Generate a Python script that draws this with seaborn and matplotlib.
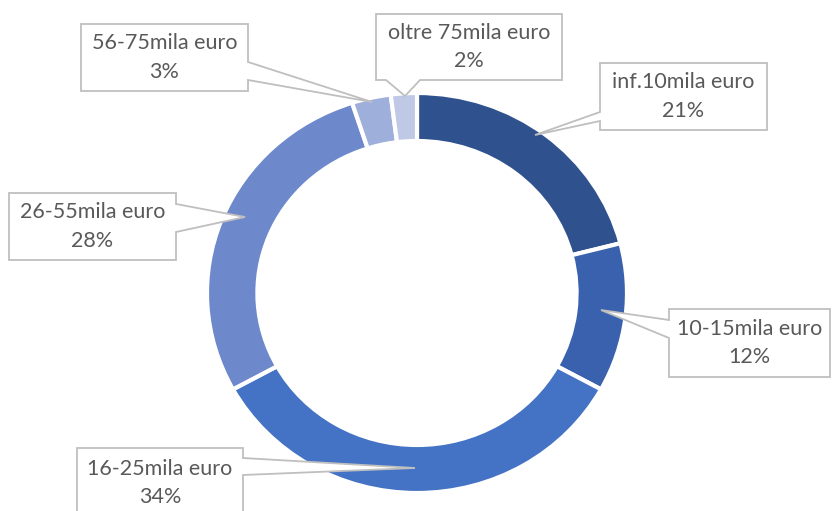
import matplotlib
matplotlib.use("Agg")
import matplotlib.pyplot as plt
from matplotlib.patches import Polygon
import seaborn as sns

categories = ["inf.10mila euro", "10-15mila euro", "16-25mila euro",
              "26-55mila euro", "56-75mila euro", "oltre 75mila euro"]
values = [21, 12, 34, 28, 3, 2]
pct_labels = ["21%", "12%", "34%", "28%", "3%", "2%"]
colors = ["#2F528F", "#3A61AD", "#4472C4", "#6D89CB", "#9EAFDB", "#BFC9E6"]

sns.set_theme(style="white")
plt.rcParams["font.family"] = ["Lato", "DejaVu Sans"]

W, H = 832, 511
fig = plt.figure(figsize=(W / 100, H / 100), dpi=100)
fig.patch.set_facecolor("white")

# pie axes (slightly elliptical like the reference)
cx, cy, rx, ry = 417, 293, 210, 200
pax = fig.add_axes([(cx - rx) / W, (H - cy - ry) / H, 2 * rx / W, 2 * ry / H])
pax.pie(values, colors=colors, startangle=90, counterclock=False, radius=1.0,
        wedgeprops=dict(width=0.24, edgecolor="white", linewidth=3))
pax.set_aspect("auto")
pax.set_xlim(-1, 1)
pax.set_ylim(-1, 1)
pax.axis("off")

# overlay axes in pixel coordinates for callouts
ox = fig.add_axes([0, 0, 1, 1])
ox.set_xlim(0, W)
ox.set_ylim(H, 0)
ox.axis("off")
ox.patch.set_alpha(0)

# box: (x0, y0, x1, y1), side, base points (b1, b2 along that side), tip
callouts = [
    ((600, 63, 767, 130), "left", (112, 121), (535, 135)),
    ((669, 309, 830, 377), "left", (320, 338), (601, 310)),
    ((77, 448, 243, 520), "right", (458, 475), (415, 468)),
    ((9, 193, 176, 260), "right", (204, 232), (245, 217)),
    ((81, 24, 248, 91), "right", (62, 80), (372, 102)),
    ((376, 14, 562, 80), "bottom", (386, 420), (405, 96)),
]

for (box, side, base, tip), cat, pct in zip(callouts, categories, pct_labels):
    x0, y0, x1, y1 = box
    b1, b2 = base
    if side == "left":
        pts = [(x0, y0), (x1, y0), (x1, y1), (x0, y1), (x0, b2), tip, (x0, b1)]
    elif side == "right":
        pts = [(x0, y0), (x1, y0), (x1, b1), tip, (x1, b2), (x1, y1), (x0, y1)]
    else:  # bottom
        pts = [(x0, y0), (x1, y0), (x1, y1), (b2, y1), tip, (b1, y1), (x0, y1)]
    poly = Polygon(pts, closed=True, facecolor="white", edgecolor="#BFBFBF",
                   linewidth=1.3, zorder=3)
    ox.add_patch(poly)
    tx = (x0 + x1) / 2
    ty = (y0 + y1) / 2 if y1 <= H else y0 + 35
    ox.text(tx, ty, f"{cat}\n{pct}", ha="center", va="center",
            fontsize=15.5, color="#595959", linespacing=1.55, zorder=4)

fig.savefig("out.png", dpi=100, facecolor="white")
